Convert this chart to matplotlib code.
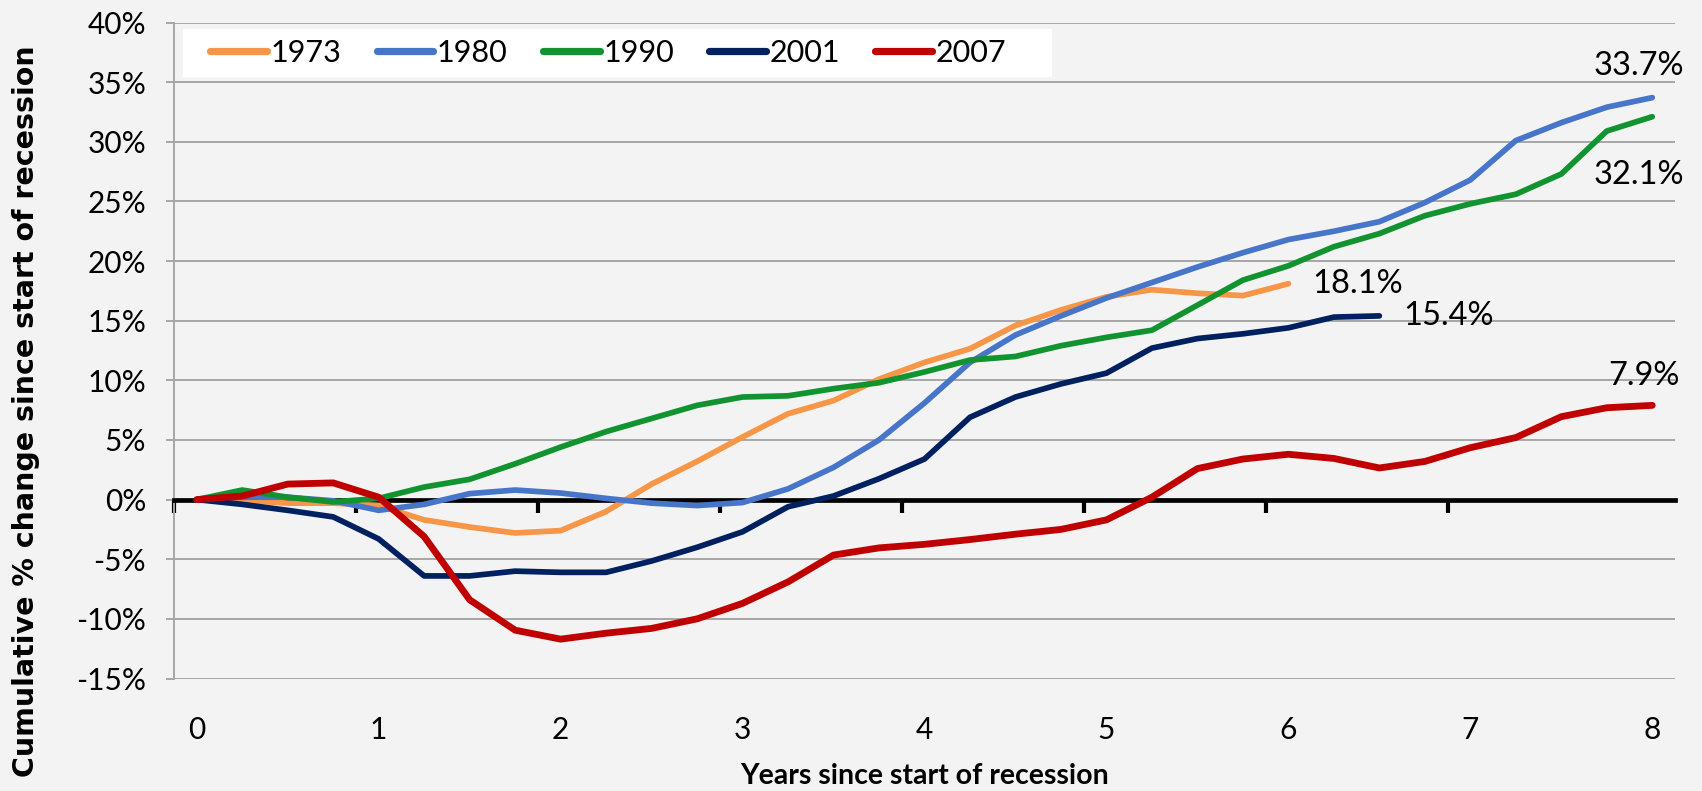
import numpy as np
import matplotlib
matplotlib.use("Agg")
import matplotlib.pyplot as plt
from matplotlib.patches import Rectangle

# ---------------- data (cumulative % change, quarterly) ----------------
series_names = ["1973", "1980", "1990", "2001", "2007"]
y1973 = [0, -0.05, -0.3, -0.3, -0.5, -1.7, -2.3, -2.8, -2.6, -1.0, 1.3, 3.2, 5.25,
         7.2, 8.3, 10.1, 11.5, 12.65, 14.6, 15.9, 17.0, 17.6, 17.3, 17.1, 18.1]
y1980 = [0, 0.2, 0.2, -0.1, -0.9, -0.4, 0.5, 0.8, 0.55, 0.1, -0.3, -0.5, -0.25,
         0.9, 2.7, 5.0, 8.1, 11.5, 13.8, 15.4, 16.9, 18.2, 19.5, 20.7, 21.8, 22.5,
         23.3, 24.9, 26.8, 30.1, 31.6, 32.9, 33.7]
y1990 = [0, 0.8, 0.2, -0.2, 0.1, 1.05, 1.7, 3.0, 4.4, 5.7, 6.8, 7.9, 8.6, 8.7,
         9.3, 9.8, 10.7, 11.7, 12.0, 12.9, 13.6, 14.2, 16.3, 18.4, 19.6, 21.2,
         22.3, 23.8, 24.8, 25.6, 27.3, 30.9, 32.1]
y2001 = [0, -0.4, -0.9, -1.45, -3.3, -6.4, -6.4, -6.0, -6.1, -6.1, -5.15, -4.0,
         -2.7, -0.6, 0.3, 1.75, 3.4, 6.9, 8.6, 9.7, 10.6, 12.7, 13.5, 13.9, 14.4,
         15.3, 15.4]
y2007 = [0, 0.3, 1.3, 1.4, 0.2, -3.1, -8.4, -10.95, -11.7, -11.2, -10.8, -10.0,
         -8.7, -6.9, -4.65, -4.05, -3.75, -3.35, -2.9, -2.5, -1.7, 0.2, 2.6, 3.4,
         3.8, 3.45, 2.65, 3.2, 4.35, 5.2, 6.95, 7.7, 7.9]
end_labels = ["18.1%", "33.7%", "32.1%", "15.4%", "7.9%"]

x_tick_labels = ["0", "1", "2", "3", "4", "5", "6", "7", "8"]
y_ticks = [-15, -10, -5, 0, 5, 10, 15, 20, 25, 30, 35, 40]
y_tick_labels = ["-15%", "-10%", "-5%", "0%", "5%", "10%", "15%", "20%",
                 "25%", "30%", "35%", "40%"]

colors = ["#F79646", "#4775CA", "#11932F", "#002060", "#C00000"]
widths = [4.1, 4.1, 4.1, 4.1, 4.9]
# label offsets in points (dx, dy) and horizontal alignment
label_style = [(17, 0, "left"), (23, 23, "right"), (23, -42, "right"),
               (17, 0, "left"), (20, 21, "right")]

all_series = [y1973, y1980, y1990, y2001, y2007]

# ---------------- figure ----------------
fig = plt.figure(figsize=(17.02, 7.91), dpi=100, facecolor="#F3F3F3")
ax = fig.add_axes([174 / 1702, 1 - 678.5 / 791, 1501 / 1702, 656 / 791])
ax.set_facecolor("none")

FONT = "Lato"
lines = []
for name, ys, c, lw in zip(series_names, all_series, colors, widths):
    xs = np.arange(len(ys)) / 4.0
    ln, = ax.plot(xs, ys, color=c, lw=lw, solid_capstyle="round",
                  solid_joinstyle="round", zorder=3, label=name)
    lines.append(ln)

# end-of-line data labels
for i in range(len(all_series)):
    ys = all_series[i]
    xe = (len(ys) - 1) / 4.0
    ye = ys[-1]
    dx, dy, ha = label_style[i]
    ax.annotate(end_labels[i], xy=(xe, ye), xytext=(dx, dy),
                textcoords="offset points", ha=ha, va="center",
                fontsize=23.5, family=FONT, color="black", zorder=5,
                annotation_clip=False)

# axes limits
ax.set_xlim(-0.5 / 4, 32.5 / 4)
ax.set_ylim(-15, 40)

# y axis
ax.set_yticks(y_ticks)
ax.set_yticklabels(y_tick_labels, family=FONT, fontsize=21.5)
ax.tick_params(axis="y", length=6, width=1.3, color="#A0A0A0", pad=14,
               direction="out")
ax.grid(axis="y", color="#A6A6A6", lw=1.4, zorder=1)
ax.set_axisbelow(True)

# spines
ax.spines["top"].set_visible(False)
ax.spines["right"].set_visible(False)
ax.spines["left"].set_color("#A6A6A6")
ax.spines["left"].set_linewidth(1.4)
ax.spines["bottom"].set_position(("data", 0))
ax.spines["bottom"].set_color("black")
ax.spines["bottom"].set_linewidth(3.4)
ax.spines["bottom"].set_zorder(2.5)

# x ticks on the zero line, between categories
major_x = (np.arange(0, 32, 4) - 0.5) / 4.0
ax.set_xticks(major_x)
ax.set_xticklabels([])
ax.tick_params(axis="x", length=9, width=3, color="black", direction="out")

# category labels at the bottom of the plot area
sec = ax.secondary_xaxis(0)
sec.set_xticks(np.arange(0, 33, 4) / 4.0)
sec.set_xticklabels(x_tick_labels, family=FONT, fontsize=21.5)
sec.tick_params(length=0, pad=27)
sec.spines["bottom"].set_visible(False)

# legend with white background box
ax.add_patch(Rectangle((0.006, 0.917), 0.579, 0.073, transform=ax.transAxes,
                       facecolor="white", edgecolor="none", zorder=4))
leg = ax.legend(handles=lines, loc="center left", bbox_to_anchor=(0.024, 0.9535),
                ncol=5, frameon=False, borderpad=0, borderaxespad=0,
                handlelength=1.86, handletextpad=0.12, columnspacing=1.15,
                prop={"family": FONT, "size": 22})
leg.set_zorder(6)
for h in leg.get_lines():
    h.set_linewidth(5.2)
    h.set_solid_capstyle("round")

# axis titles
fig.text(925 / 1702, 1 - 776 / 791, "Years since start of recession",
         ha="center", va="center", family=FONT, fontweight="bold", fontsize=20.5)
fig.text(26 / 1702, 1 - 411 / 791, "Cumulative % change since start of recession",
         ha="center", va="center", rotation=90, family="DejaVu Sans",
         fontweight="bold", fontsize=20.5)

fig.savefig("out.png", dpi=100, facecolor=fig.get_facecolor())
